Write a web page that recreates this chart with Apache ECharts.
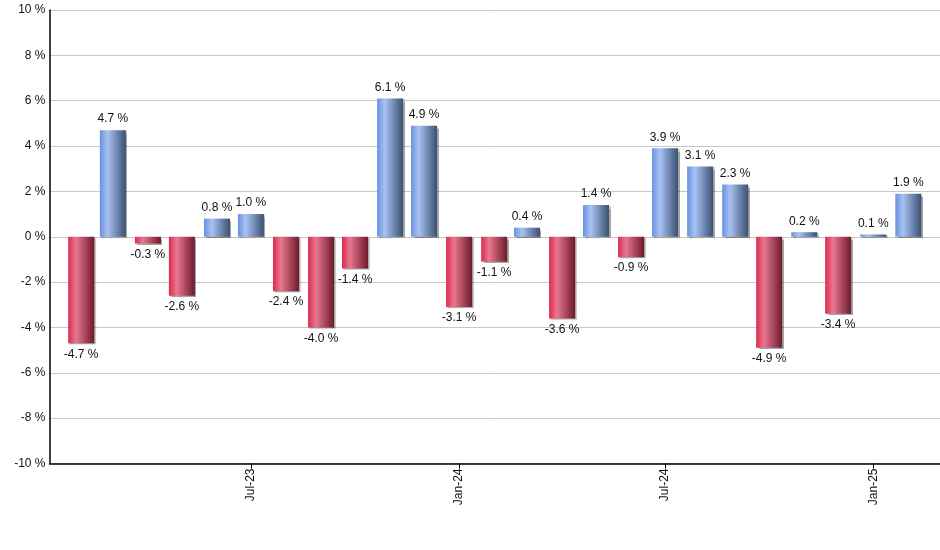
<!DOCTYPE html>
<html>
<head>
<meta charset="utf-8">
<script src="https://cdn.jsdelivr.net/npm/echarts@6/dist/echarts.min.js"></script>
<style>html,body{margin:0;padding:0;background:#fff}#c{width:940px;height:550px}</style>
</head>
<body>
<div id="c"></div>
<script>
// Monthly returns, bars placed at the first day of each month
var months = ['2023-02','2023-03','2023-04','2023-05','2023-06','2023-07','2023-08','2023-09','2023-10','2023-11','2023-12',
  '2024-01','2024-02','2024-03','2024-04','2024-05','2024-06','2024-07','2024-08','2024-09','2024-10','2024-11','2024-12',
  '2025-01','2025-02'];
var values = [-4.7, 4.7, -0.3, -2.6, 0.8, 1.0, -2.4, -4.0, -1.4, 6.1, 4.9,
  -3.1, -1.1, 0.4, -3.6, 1.4, -0.9, 3.9, 3.1, 2.3, -4.9, 0.2, -3.4,
  0.1, 1.9];
var tickMonths = ['2023-07','2024-01','2024-07','2025-01'];
var tickLabels = ['Jul-23','Jan-24','Jul-24','Jan-25'];

var DAY = 86400000;
function ts(s){ var p = s.split('-'); return Date.UTC(+p[0], +p[1]-1, 1); }
var tickTs = tickMonths.map(ts);
var xMin = Date.UTC(2023,0,4), xMax = Date.UTC(2025,2,1);

var blueGrad = new echarts.graphic.LinearGradient(0,0,1,0,[
  {offset:0,color:'#6a91df'},{offset:0.3,color:'#a8c2f2'},{offset:1,color:'#3a5072'}]);
var redGrad = new echarts.graphic.LinearGradient(0,0,1,0,[
  {offset:0,color:'#dc2a4e'},{offset:0.3,color:'#e97790'},{offset:1,color:'#6d1a2b'}]);

var data = months.map(function(m,i){
  var v = values[i];
  return {
    value:[ts(m), v],
    itemStyle:{color: v>=0 ? blueGrad : redGrad},
    label:{position: v>=0 ? 'top' : 'bottom'}
  };
});

function xLabel(v){
  for (var k=0;k<tickTs.length;k++){ if (Math.abs(tickTs[k]-v) < DAY) return tickLabels[k]; }
  return '';
}

var chart = echarts.init(document.getElementById('c'), null, {renderer:'canvas'});
chart.setOption({
  animation:false,
  textStyle:{fontFamily:'Liberation Sans, Arial, sans-serif'},
  grid:{left:49.5, right:0, top:10, bottom:86.5, containLabel:false},
  xAxis:{
    type:'value',
    min: xMin,
    max: xMax,
    axisLine:{show:true, onZero:false, lineStyle:{color:'#000', width:1.5}},
    axisTick:{show:true, customValues: tickTs, length:5, lineStyle:{color:'#000'}},
    axisLabel:{show:true, customValues: tickTs, rotate:90, color:'#111', fontSize:12, margin:5,
      formatter:xLabel},
    splitLine:{show:false}
  },
  yAxis:{
    type:'value', min:-10, max:10, interval:2,
    axisLine:{show:true, lineStyle:{color:'#000', width:1.5}},
    axisTick:{show:false},
    axisLabel:{color:'#111', fontSize:12, margin:4, formatter:'{value} %'},
    splitLine:{show:true, lineStyle:{color:'#c8c8c8', width:1}}
  },
  series:[{
    type:'bar',
    barWidth:26,
    data:data,
    itemStyle:{shadowColor:'rgba(0,0,0,0.35)', shadowOffsetX:1.5, shadowOffsetY:1, shadowBlur:1},
    label:{show:true, distance:5, color:'#111', fontSize:12,
      formatter:function(p){ return p.value[1].toFixed(1)+' %'; }}
  }]
});
</script>
</body>
</html>
